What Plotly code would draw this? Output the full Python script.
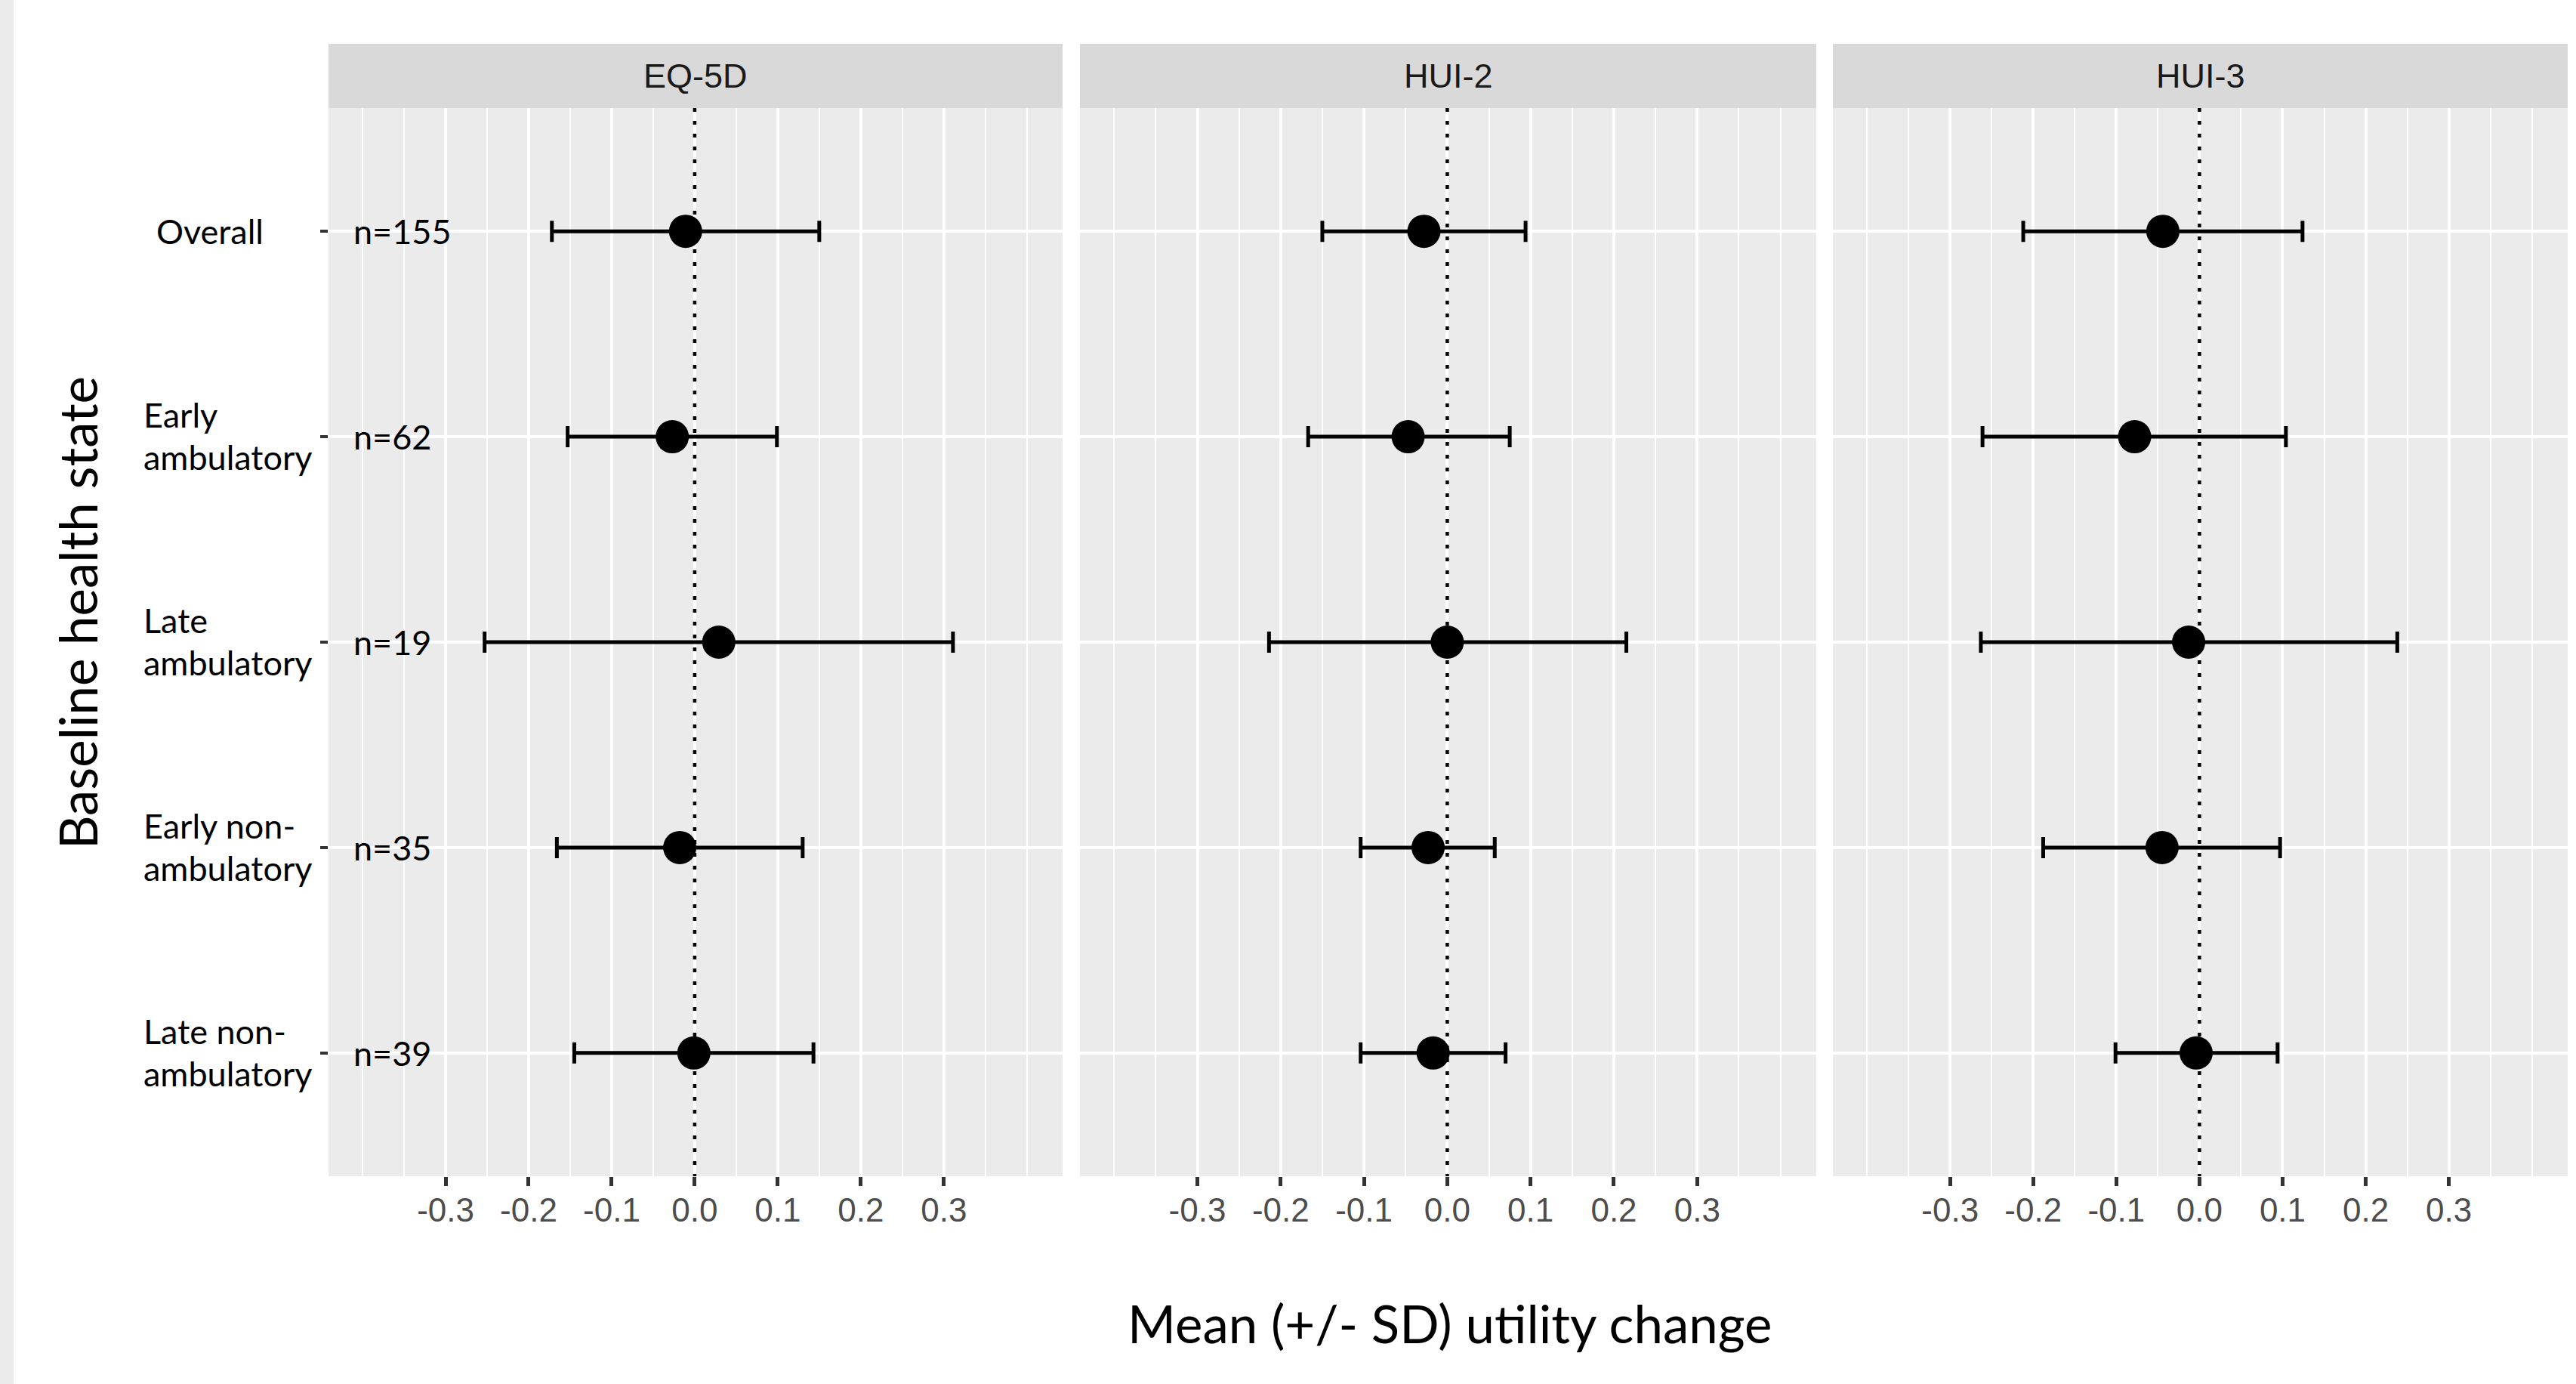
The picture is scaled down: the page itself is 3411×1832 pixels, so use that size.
import plotly.graph_objects as go

# ---------------- data ----------------
categories = ["Overall", "Early ambulatory", "Late ambulatory",
              "Early non-ambulatory", "Late non-ambulatory"]
category_lines = [["Overall"], ["Early", "ambulatory"], ["Late", "ambulatory"],
                  ["Early non-", "ambulatory"], ["Late non-", "ambulatory"]]
n_values = [155, 62, 19, 35, 39]
instruments = ["EQ-5D", "HUI-2", "HUI-3"]

eq5d_mean = [-0.011, -0.027, 0.029, -0.018, -0.001]
eq5d_lower = [-0.172, -0.153, -0.253, -0.166, -0.145]
eq5d_upper = [0.150, 0.099, 0.311, 0.130, 0.143]

hui2_mean = [-0.028, -0.047, 0.000, -0.023, -0.017]
hui2_lower = [-0.150, -0.167, -0.214, -0.104, -0.104]
hui2_upper = [0.094, 0.075, 0.215, 0.057, 0.070]

hui3_mean = [-0.044, -0.078, -0.013, -0.045, -0.004]
hui3_lower = [-0.212, -0.261, -0.263, -0.188, -0.101]
hui3_upper = [0.124, 0.104, 0.238, 0.097, 0.094]

x_tickvals = [-0.3, -0.2, -0.1, 0.0, 0.1, 0.2, 0.3]
x_ticktext = ["-0.3", "-0.2", "-0.1", "0.0", "0.1", "0.2", "0.3"]

x_title = "Mean (+/- SD) utility change"
y_title = "Baseline health state"

# ---------------- layout geometry (pixels) ----------------
W, H = 3411, 1832
ML, MR, MT, MB = 435, 11, 143, 275
PW = W - ML - MR
PH = H - MT - MB
panel_px = [(435, 1407), (1430, 2405), (2427, 3400)]
domains = [[(a - ML) / PW, (b - ML) / PW] for a, b in panel_px]
strip_h = 85
Y_LO, Y_HI = -0.6, 4.6

def px_x(p):
    return (p - ML) / PW

def px_y(p):
    return (MT + PH - p) / PH

CAL = "Lato, 'Open Sans', sans-serif"
ARIAL = "'Liberation Sans', Arial, sans-serif"

series = [(eq5d_mean, eq5d_lower, eq5d_upper),
          (hui2_mean, hui2_lower, hui2_upper),
          (hui3_mean, hui3_lower, hui3_upper)]

fig = go.Figure()
for i, (m, lo, hi) in enumerate(series):
    ax = "" if i == 0 else str(i + 1)
    fig.add_trace(go.Scatter(
        x=m, y=categories, mode="markers",
        xaxis="x" + ax, yaxis="y" + ax,
        marker=dict(color="black", size=44, line=dict(width=0)),
        error_x=dict(type="data", symmetric=False,
                     array=[h - v for h, v in zip(hi, m)],
                     arrayminus=[v - l for v, l in zip(m, lo)],
                     color="black", thickness=5, width=14),
        showlegend=False, hoverinfo="skip"))

layout = dict(
    width=W, height=H,
    margin=dict(l=ML, r=MR, t=MT, b=MB, pad=0),
    paper_bgcolor="white", plot_bgcolor="#EBEBEB",
    showlegend=False,
)

for i in range(3):
    ax = "" if i == 0 else str(i + 1)
    layout["xaxis" + ax] = dict(
        domain=domains[i], range=[-0.441, 0.443], anchor="y" + ax,
        tickmode="array", tickvals=x_tickvals, ticktext=x_ticktext,
        ticks="outside", ticklen=12, tickwidth=4.5, tickcolor="#333333",
        tickfont=dict(family=ARIAL, size=44, color="#4D4D4D"),
        ticklabelstandoff=-6,
        showgrid=True, gridcolor="white", gridwidth=4,
        zeroline=False, showline=False,
        minor=dict(tick0=0, dtick=0.05, showgrid=True, gridcolor="white",
                   gridwidth=2, ticks=""),
        fixedrange=True,
    )
    layout["yaxis" + ax] = dict(
        domain=[0, 1], anchor="x" + ax,
        type="category", categoryorder="array", categoryarray=categories,
        range=[Y_HI, Y_LO],
        showticklabels=False,
        ticks="outside" if i == 0 else "", ticklen=10, tickwidth=4,
        tickcolor="#333333",
        showgrid=True, gridcolor="white", gridwidth=4,
        zeroline=False, showline=False,
        fixedrange=True,
    )
    if i > 0:
        layout["yaxis" + ax]["matches"] = "y"

fig.update_layout(**layout)

shapes = []
annotations = []
for i in range(3):
    ax = "" if i == 0 else str(i + 1)
    # strip
    shapes.append(dict(type="rect", xref="paper", yref="paper",
                       x0=domains[i][0], x1=domains[i][1],
                       y0=1, y1=1 + strip_h / PH,
                       fillcolor="#D9D9D9", line=dict(width=0), layer="above"))
    annotations.append(dict(text=instruments[i], xref="paper", yref="paper",
                            x=(domains[i][0] + domains[i][1]) / 2,
                            y=1 + strip_h / 2 / PH, xanchor="center",
                            yanchor="middle", showarrow=False,
                            font=dict(family=ARIAL, size=45, color="#1A1A1A")))
    # dotted reference line at zero
    shapes.append(dict(type="line", xref="x" + ax, yref="y" + ax,
                       x0=0, x1=0, y0=Y_LO, y1=Y_HI, layer="between",
                       line=dict(color="black", width=4.5, dash="5px,12px")))

# left grey band
shapes.append(dict(type="rect", xref="paper", yref="paper",
                   x0=px_x(0), x1=px_x(18), y0=px_y(H), y1=px_y(0),
                   fillcolor="#EBEBEB", line=dict(width=0), layer="below"))

# category labels
for cat, lines in zip(categories, category_lines):
    if len(lines) == 1:
        annotations.append(dict(text=lines[0], xref="paper", yref="y",
                                x=px_x(205), y=cat, xanchor="left",
                                yanchor="middle", showarrow=False,
                                font=dict(family=CAL, size=45, color="black")))
    else:
        for txt, shift in zip(lines, [29, -27]):
            annotations.append(dict(text=txt, xref="paper", yref="y",
                                    x=px_x(188), y=cat, yshift=shift,
                                    xanchor="left", yanchor="middle",
                                    showarrow=False,
                                    font=dict(family=CAL, size=45, color="black")))

# n labels
for cat, n in zip(categories, n_values):
    annotations.append(dict(text=f"n={n}", xref="paper", yref="y",
                            x=px_x(466), y=cat, xanchor="left",
                            yanchor="middle", showarrow=False,
                            font=dict(family=CAL, size=45, color="black")))

# axis titles
annotations.append(dict(text=x_title, xref="paper", yref="paper",
                        x=px_x(1920), y=px_y(1751), xanchor="center",
                        yanchor="middle", showarrow=False,
                        font=dict(family=CAL, size=69, color="black")))
annotations.append(dict(text=y_title, xref="paper", yref="paper",
                        x=px_x(102), y=px_y(811), xanchor="center",
                        yanchor="middle", textangle=-90, showarrow=False,
                        font=dict(family=CAL, size=69, color="black")))

fig.update_layout(shapes=shapes, annotations=annotations)
fig.write_html(
    "out.html",
    config={"displayModeBar": False},
    post_script="document.body.style.margin='0';document.body.style.overflow='hidden';",
)
